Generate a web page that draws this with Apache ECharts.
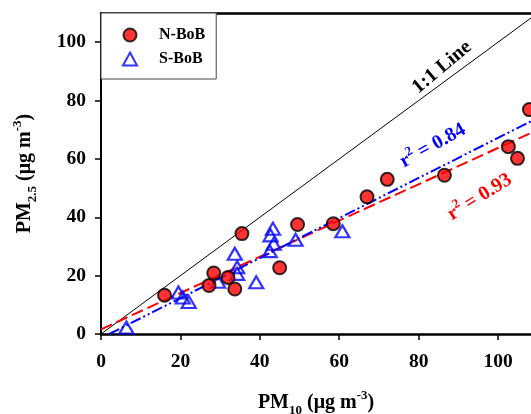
<!DOCTYPE html>
<html><head><meta charset="utf-8">
<script src="https://cdn.jsdelivr.net/npm/echarts@6/dist/echarts.min.js"></script>
<style>html,body{margin:0;padding:0;background:#fff}#c{width:531px;height:414px}</style>
</head><body><div id="c"></div>
<script>
// N-BoB: [PM10, PM2.5]
const nBoB = [[16.0,13.3],[27.2,16.6],[28.4,20.9],[32.0,19.4],[33.7,15.4],[35.5,34.4],[45.0,22.7],[49.5,37.5],[58.5,37.8],[67.0,47.0],[72.1,53.0],[86.5,54.4],[102.6,64.2],[104.9,60.2],[107.9,76.9]];
// S-BoB: [PM10, PM2.5]
const sBoB = [[6.4,2.2],[19.5,14.2],[20.6,12.5],[22.1,11.0],[29.5,17.9],[33.7,27.5],[34.3,22.9],[34.3,20.6],[39.1,17.7],[42.5,28.4],[43.5,30.9],[42.7,33.8],[43.3,36.1],[49.0,32.3],[60.8,35.2]];
const oneToOne = [[0,0],[110,110]];
const nFit = [[0,1.6],[108.3,68.9]];
const sFit = [[2.1,0],[108.3,72.9]];
const xTicks = [0,20,40,60,80,100];
const yTicks = [0,20,40,60,80,100];
const notes = [
  {text:'1:1 Line', at:[85.9,91.4], color:'#000', rot:40},
  {text:'r2 = 0.84', at:[83.6,64.5], color:'#0000ff', rot:29},
  {text:'r2 = 0.93', at:[95.4,46.9], color:'#ff0000', rot:32}
];

const FONT = '"Liberation Serif","Times New Roman",serif';
const chart = echarts.init(document.getElementById('c'));
const axisLabel = {fontFamily:FONT, fontWeight:'bold', fontSize:19.5, color:'#000'};
const titleRich = {
  b:{fontFamily:FONT, fontWeight:'bold', fontSize:20, color:'#000', lineHeight:28, verticalAlign:'middle'},
  s:{fontFamily:FONT, fontWeight:'bold', fontSize:13, color:'#000', lineHeight:28, verticalAlign:'bottom', padding:[9,0,0,0]},
  p:{fontFamily:FONT, fontWeight:'bold', fontSize:13, color:'#000', lineHeight:28, verticalAlign:'top', padding:[0,0,9,0]}
};
chart.setOption({
  animation:false,
  grid:{left:101, right:0, top:13, bottom:80, containLabel:false, outerBoundsMode:'none'},
  legend:{
    left:101, top:13, orient:'vertical',
    padding:[14,11,12,21], itemGap:8, itemWidth:14, itemHeight:13,
    borderColor:'#444', borderWidth:1, backgroundColor:'#fff',
    textStyle:{fontFamily:FONT, fontWeight:'bold', fontSize:16, color:'#000', padding:[0,0,0,17]},
    data:['N-BoB','S-BoB']
  },
  xAxis:[{
    type:'value', min:0, max:108.3, interval:20,
    axisLine:{lineStyle:{color:'#000', width:2.5}},
    axisTick:{length:6, lineStyle:{color:'#000', width:1.5}},
    axisLabel:Object.assign({margin:18, showMaxLabel:false, formatter:v=>xTicks.includes(v)?String(v):''}, axisLabel),
    splitLine:{show:false},
    name:'{b|PM}{s|10}{b| (μg m}{p|-3}{b|)}', nameLocation:'middle', nameGap:55,
    nameTextStyle:{rich:titleRich}
  },{
    type:'value', position:'top', min:0, max:108.3,
    axisLine:{show:true, lineStyle:{color:'#000', width:2.5}},
    axisTick:{show:false}, axisLabel:{show:false}, splitLine:{show:false}
  }],
  yAxis:{
    type:'value', min:0, max:110, interval:20,
    axisLine:{show:true, lineStyle:{color:'#000', width:2}},
    axisTick:{show:true, length:6, lineStyle:{color:'#000', width:1.5}},
    axisLabel:Object.assign({margin:15, showMaxLabel:false, formatter:v=>yTicks.includes(v)?String(v):''}, axisLabel),
    splitLine:{show:false},
    name:'{b|PM}{s|2.5}{b| (μg m}{p|-3}{b|)}', nameLocation:'middle', nameGap:62, nameRotate:90,
    nameTextStyle:{rich:titleRich}
  },
  series:[
    {type:'line', data:oneToOne, symbol:'none', silent:true, z:1, lineStyle:{color:'#000', width:1}},
    {type:'line', data:nFit, symbol:'none', silent:true, z:1, lineStyle:{color:'#ff0000', width:2, type:[12,5]}},
    {type:'line', data:sFit, symbol:'none', silent:true, z:1, lineStyle:{color:'#0000ff', width:2, type:[11,3,2,3,2,3]}},
    {name:'S-BoB', type:'scatter', data:sBoB, symbol:'triangle', symbolSize:[14,12], z:3,
      itemStyle:{color:'rgba(255,255,255,0)', borderColor:'#0000ff', borderWidth:2.2}},
    {name:'N-BoB', type:'scatter', data:nBoB, symbol:'circle', symbolSize:13, z:4, clip:false,
      itemStyle:{color:'#ff0000', borderColor:'#000', borderWidth:2}}
  ]
});

const g = notes.map(n => {
  const p = chart.convertToPixel({xAxisIndex:0, yAxisIndex:0}, n.at);
  const isR = n.text.startsWith('r2');
  return {
    type:'text', x:p[0], y:p[1], rotation:n.rot*Math.PI/180, z:10,
    style:{
      text: isR ? '{b|r}{p|2}{b|' + n.text.slice(2) + '}' : '{b|' + n.text + '}',
      fill:n.color, align:'center', verticalAlign:'middle',
      rich:{
        b:{fontFamily:FONT, fontWeight:'bold', fontSize:20, fill:n.color, lineHeight:26, verticalAlign:'middle'},
        p:{fontFamily:FONT, fontWeight:'bold', fontSize:13, fill:n.color, lineHeight:26, verticalAlign:'top', padding:[0,0,9,0]}
      }
    }
  };
});
chart.setOption({graphic:g});
</script></body></html>
